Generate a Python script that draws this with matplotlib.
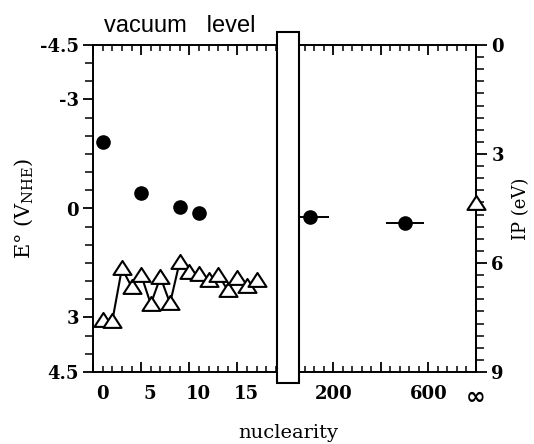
import numpy as np
import matplotlib.pyplot as plt
import matplotlib.transforms as mtransforms
from matplotlib.patches import Rectangle
from matplotlib.path import Path
from matplotlib.ticker import MultipleLocator, FixedLocator

plt.rcParams['axes.unicode_minus'] = False
plt.rcParams['mathtext.fontset'] = 'dejavuserif'

# ionisation potentials of Ag_n expressed on the E° scale (open triangles)
n_ip = [1, 2, 3, 4, 5, 6, 7, 8, 9, 10, 11, 12, 13, 14, 15, 16, 17]
e_ip = [3.07, 3.10, 1.65, 2.15, 1.83, 2.63, 1.89, 2.61, 1.47, 1.74,
        1.79, 1.98, 1.83, 2.25, 1.90, 2.12, 1.96]
# redox potentials of small clusters (filled circles)
n_red = [1, 5, 9, 11]
e_red = [-1.82, -0.43, -0.03, 0.12]
# large clusters, with size spread
n_big = [100, 500]
e_big = [0.23, 0.39]
n_big_err = [80, 80]
# bulk metal (n = infinity, drawn at the right edge)
n_bulk = [800]
e_bulk = [-0.15]

W, H = 534, 444
fig = plt.figure(figsize=(W / 100, H / 100), dpi=100)

def px_box(x0, y0, x1, y1):
    return [x0 / W, 1 - y1 / H, (x1 - x0) / W, (y1 - y0) / H]

ax1 = fig.add_axes(px_box(93, 45, 276, 372))
ax2 = fig.add_axes(px_box(299, 45, 476, 372))

tickfont = dict(family='DejaVu Serif', weight='bold', size=13)
# slightly wide open triangle, like the printed one
tri = Path([(-1.2, -0.85), (1.2, -0.85), (0, 1), (-1.2, -0.85)], closed=True)

# ---- left panel: small clusters
ax1.plot(n_ip, e_ip, color='k', lw=1.5, marker=tri, ms=13, mfc='white',
         mec='k', mew=1.5, zorder=3)
ax1.plot(n_red, e_red, 'o', color='k', ms=9.5, zorder=4)
ax1.set_xlim(0.15, 19)
ax1.set_ylim(4.5, -4.5)
ax1.spines['right'].set_visible(False)
ax1.set_yticks([-4.5, -3, 0, 3, 4.5])
ax1.set_yticklabels(['-4.5', '-3', '0', '3', '4.5'], fontdict=tickfont)
ax1.yaxis.set_minor_locator(MultipleLocator(0.5))
ax1.set_xticks([0, 5, 10, 15])
ax1.set_xticklabels(['0', '5', '10', '15'], fontdict=tickfont)
ax1.xaxis.set_minor_locator(MultipleLocator(1))
ax1.tick_params(axis='x', which='both', direction='in', top=True, bottom=True, pad=9)
ax1.tick_params(axis='x', which='major', length=7, width=1.3)
ax1.tick_params(axis='x', which='minor', length=4, width=1.1)
ax1.tick_params(axis='y', which='both', direction='out', right=False, pad=3)
ax1.tick_params(axis='y', which='major', length=7, width=1.3)
ax1.tick_params(axis='y', which='minor', length=6, width=1.1)
# the printed labels sit a little to the right of their ticks
shift = mtransforms.ScaledTranslation(0.09, 0, fig.dpi_scale_trans)
for lab in ax1.get_xticklabels():
    lab.set_transform(lab.get_transform() + shift)
ax1.set_ylabel('E° (V$_{\\rm NHE}$)', family='DejaVu Serif', size=15, labelpad=4)

# ---- right panel: large clusters and bulk
ax2.errorbar(n_big, e_big, xerr=n_big_err, fmt='o', color='k', ms=9.5,
             elinewidth=1.4, capsize=0, zorder=4)
ax2.plot(n_bulk, e_bulk, marker=tri, ls='none', ms=13, mfc='white', mec='k',
         mew=1.5, clip_on=False, zorder=5)
ax2.set_xlim(55, 800)
ax2.set_ylim(4.5, -4.5)
ax2.spines['left'].set_visible(False)
ax2.set_xticks([200, 400, 600, 800])
ax2.set_xticklabels(['200', '', '600', '∞'], fontdict=tickfont)
inf_lab = ax2.get_xticklabels()[-1]
inf_lab.set_fontfamily('DejaVu Sans')
inf_lab.set_fontsize(17)
inf_lab.set_transform(inf_lab.get_transform()
                      + mtransforms.ScaledTranslation(-0.03, 0.03, fig.dpi_scale_trans))
ax2.xaxis.set_minor_locator(FixedLocator(np.arange(80, 780, 40)))
ax2.tick_params(axis='x', which='both', direction='in', top=True, bottom=True, pad=9)
ax2.tick_params(axis='x', which='major', length=7, width=1.3)
ax2.tick_params(axis='x', which='minor', length=4, width=1.1)
ax2.tick_params(axis='y', which='both', left=False, right=False,
                labelleft=False, labelright=False)

ip_ax = ax2.secondary_yaxis('right', functions=(lambda e: e + 4.5, lambda ip: ip - 4.5))
ip_ax.set_yticks([0, 3, 6, 9])
ip_ax.set_yticklabels(['0', '3', '6', '9'], fontdict=tickfont)
ip_ax.yaxis.set_minor_locator(FixedLocator(np.arange(0, 9.01, 1 / 3)))
ip_ax.tick_params(which='both', direction='out', pad=3)
ip_ax.tick_params(which='major', length=8, width=1.3)
ip_ax.tick_params(which='minor', length=6, width=1.1)
ip_ax.spines['right'].set_linewidth(1.4)
ip_ax.set_ylabel('IP (eV)', family='DejaVu Serif', size=13, labelpad=6)

for ax in (ax1, ax2):
    for sp in ax.spines.values():
        sp.set_linewidth(1.4)

# axis break drawn as an empty box
fig.patches.append(Rectangle((277 / W, 1 - 383 / H), 22 / W, 351 / H,
                             transform=fig.transFigure, facecolor='white',
                             edgecolor='k', lw=1.5, zorder=5))

fig.text(180 / W, 1 - 32 / H, 'vacuum   level', family='Liberation Sans',
         size=17, ha='center', va='baseline')
fig.text(288 / W, 1 - 438 / H, 'nuclearity', family='DejaVu Serif',
         size=14, ha='center', va='baseline')

fig.savefig('out.png', dpi=100)
